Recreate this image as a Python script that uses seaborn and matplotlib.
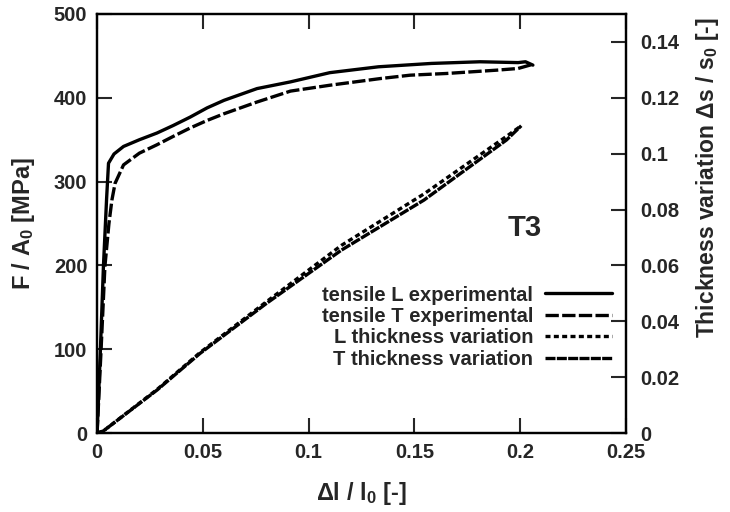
import numpy as np
import pandas as pd
import seaborn as sns
import matplotlib.pyplot as plt
from matplotlib.lines import Line2D

# tensile curves (left axis)
l_tens_x = [0, 0.0015, 0.003, 0.0045, 0.0054, 0.008, 0.0125, 0.02, 0.0283, 0.036, 0.044,
            0.052, 0.060, 0.0756, 0.0914, 0.110, 0.133, 0.158, 0.181, 0.199, 0.2025, 0.206]
l_tens_y = [0, 95, 199, 280, 322, 333, 342, 350, 358, 367, 377,
            388, 397, 411, 419, 430, 437, 441, 443, 442, 443, 439]
t_tens_x = [0, 0.0018, 0.0037, 0.0056, 0.007, 0.0085, 0.0125, 0.02, 0.0283, 0.036, 0.044,
            0.052, 0.060, 0.0756, 0.0914, 0.110, 0.134, 0.148, 0.165, 0.189, 0.199, 0.206]
t_tens_y = [0, 95, 199, 250, 278, 298, 320, 334, 344, 354, 364,
            373, 381, 395, 408, 415, 423, 427, 429, 433, 435, 440]

# thickness variation (right axis)
thick_x = [0, 0.003, 0.0283, 0.0486, 0.080, 0.1155, 0.1545, 0.1935, 0.2005]
l_thick = [0, 0.0008, 0.0156, 0.0288, 0.0470, 0.0672, 0.0856, 0.1062, 0.110]
t_thick = [0, 0.0008, 0.0154, 0.0285, 0.0464, 0.0655, 0.0834, 0.1049, 0.110]

x_ticks = [0, 0.05, 0.1, 0.15, 0.2, 0.25]
left_ticks = [0, 100, 200, 300, 400, 500]
right_ticks = [0, 0.02, 0.04, 0.06, 0.08, 0.1, 0.12, 0.14]

sns.set_style("ticks")
plt.rcParams['font.family'] = ['Liberation Sans', 'DejaVu Sans']
plt.rcParams['font.weight'] = 'bold'
plt.rcParams['mathtext.fontset'] = 'custom'
plt.rcParams['mathtext.rm'] = 'Liberation Sans:bold'
plt.rcParams['mathtext.default'] = 'rm'

fig = plt.figure(figsize=(7.3, 5.12), dpi=100)
ax = fig.add_axes([0.133, 0.154, 0.7245, 0.8187])
ax2 = ax.twinx()

lw = 2.4
tdash = (0, (4, 1))
ldot = (0, (1.5, 1))
tthick = (0, (3, 0.4))
sns.lineplot(x=l_tens_x, y=l_tens_y, ax=ax, color='black', lw=lw)
sns.lineplot(x=t_tens_x, y=t_tens_y, ax=ax, color='black', lw=lw, linestyle=tdash)
sns.lineplot(x=thick_x, y=l_thick, ax=ax2, color='black', lw=lw, linestyle=ldot)
sns.lineplot(x=thick_x, y=t_thick, ax=ax2, color='black', lw=lw, linestyle=tthick)

ax.set_xlim(0, 0.25)
ax.set_ylim(0, 500)
ax2.set_ylim(0, 0.15)
ax.set_xticks(x_ticks)
ax.set_xticklabels([f"{v:g}" for v in x_ticks])
ax.set_yticks(left_ticks)
ax2.set_yticks(right_ticks)
ax2.set_yticklabels([f"{v:g}" for v in right_ticks])

ax.tick_params(axis='x', direction='in', length=11, width=1.5, top=True,
               labelsize=14.5, pad=7)
ax.tick_params(axis='y', direction='in', length=11, width=1.5, right=False,
               labelsize=14.5, pad=7)
ax2.tick_params(axis='y', direction='in', length=11, width=1.5, labelsize=14.5, pad=10)
for a in (ax, ax2):
    for s in a.spines.values():
        s.set_linewidth(1.6)
        s.set_color('black')

ax.set_xlabel(r"$\Delta$l / l$_0$ [-]", fontsize=17, fontweight='bold', labelpad=13)
ax.set_ylabel("F / A$_0$ [MPa]", fontsize=17, fontweight='bold', labelpad=12)
ax2.set_ylabel(r"Thickness variation $\Delta$s / s$_0$ [-]", fontsize=16.5,
               fontweight='bold')
ax2.yaxis.set_label_coords(1.128, 0.61)

ax.text(0.202, 245, "T3", fontsize=21, fontweight='bold', ha='center', va='center')

handles = [
    Line2D([], [], color='black', lw=lw),
    Line2D([], [], color='black', lw=lw, linestyle=tdash),
    Line2D([], [], color='black', lw=lw, linestyle=ldot),
    Line2D([], [], color='black', lw=lw, linestyle=tthick),
]
labels = ["tensile L experimental", "tensile T experimental",
          "L thickness variation", "T thickness variation"]
leg = ax2.legend(handles, labels, loc='lower right', bbox_to_anchor=(1.0, 0.12),
                 frameon=False, markerfirst=False, handlelength=3.3,
                 fontsize=14.5, labelspacing=0.12, borderaxespad=0.3,
                 handletextpad=0.6)
for t in leg.get_texts():
    t.set_ha('right')
    t.set_fontweight('bold')
leg._legend_box.align = 'right'

fig.savefig("out.png", dpi=100)
